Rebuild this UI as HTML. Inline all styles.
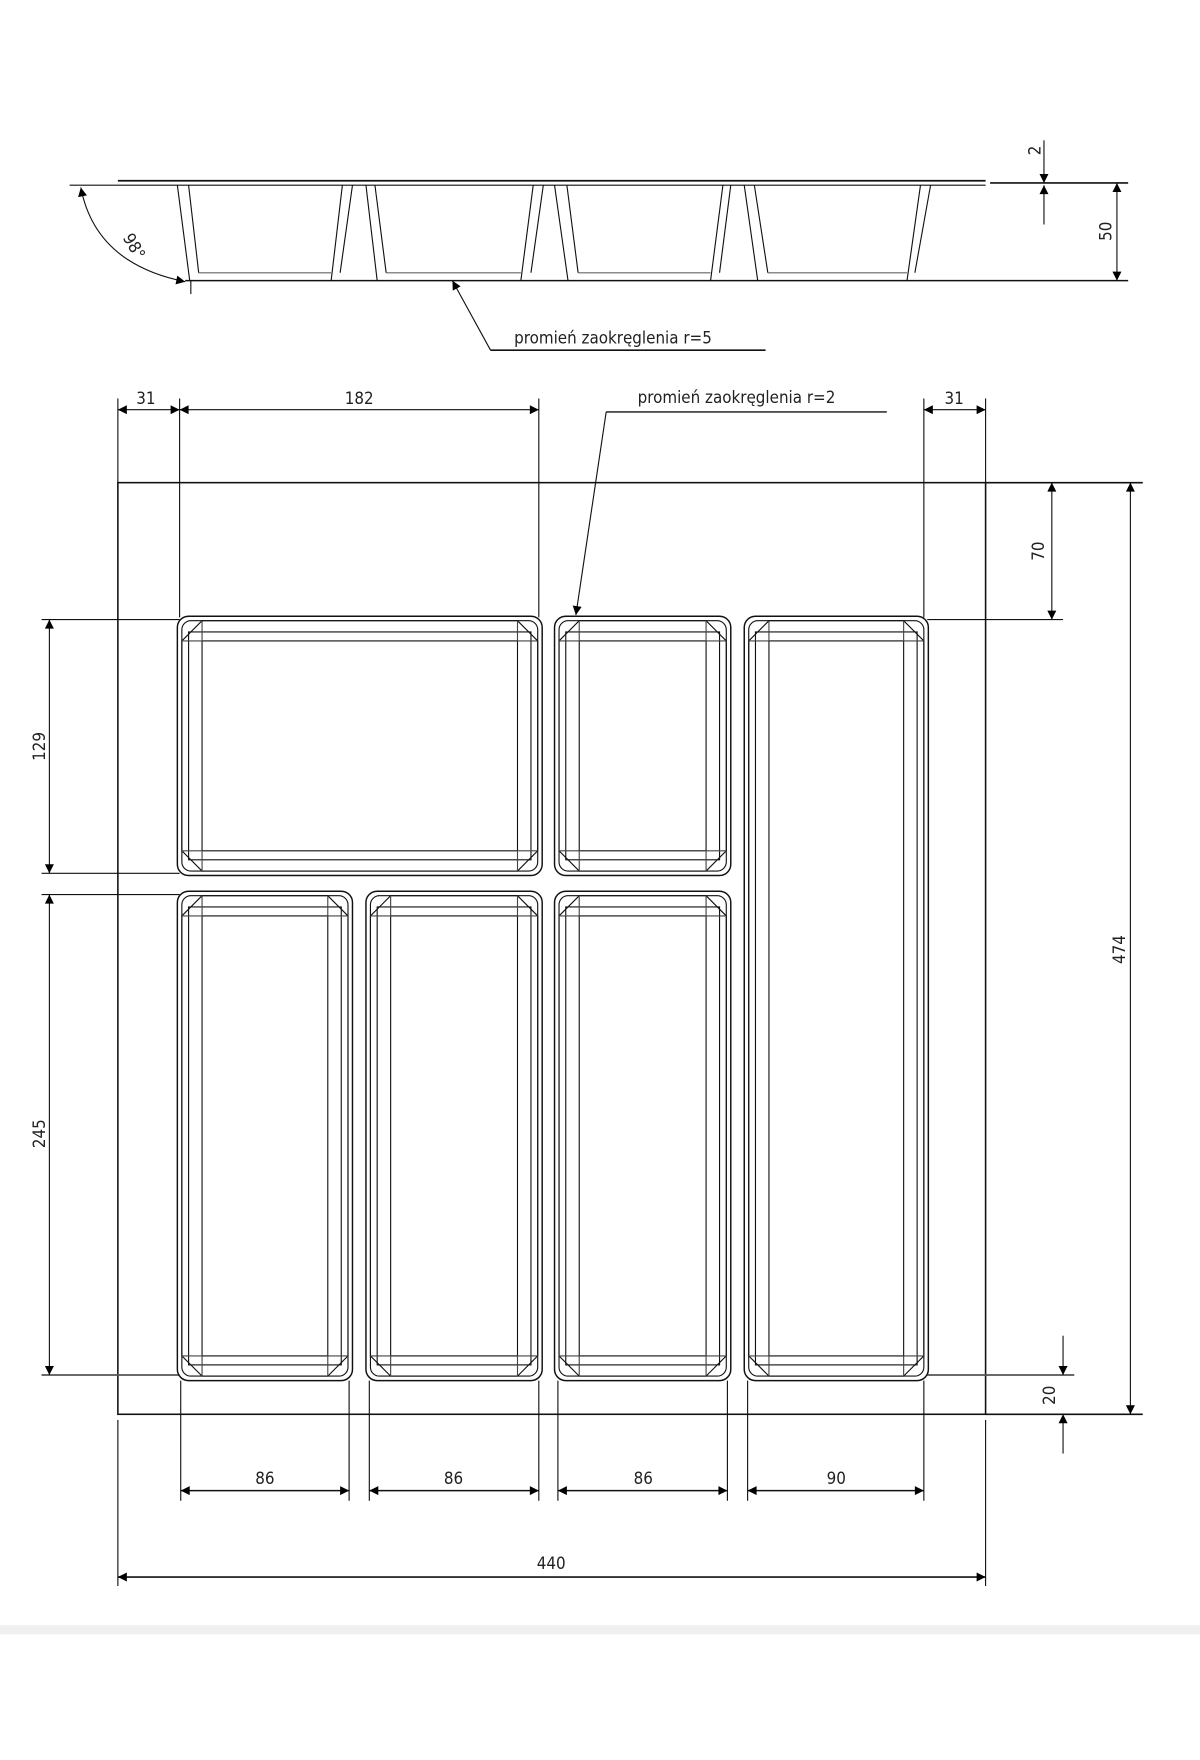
<!DOCTYPE html>
<html><head><meta charset="utf-8"><style>
html,body{margin:0;padding:0;background:#fff;}
svg{display:block}
text{font-family:"DejaVu Sans Condensed","Liberation Sans",sans-serif;fill:#222;font-size:15px}
</style></head><body>
<svg id="s" width="1200" height="1760" viewBox="0 0 1069 1568" preserveAspectRatio="none" xmlns="http://www.w3.org/2000/svg">
<defs>
<marker id="a" viewBox="0 0 10 10" refX="10" refY="5" markerWidth="14" markerHeight="8" markerUnits="userSpaceOnUse" orient="auto-start-reverse"><path d="M0,0 L10,5 L0,10 z" fill="#000"/></marker>
</defs>
<rect x="0" y="1448" width="1069" height="8" fill="#f0f0f0"/>
<g stroke="#111" stroke-width="1" fill="none">
<!-- side view -->
<line x1="105" y1="161" x2="878" y2="161" stroke-width="1.6"/>
<line x1="105" y1="165" x2="878" y2="165"/>
<line x1="882" y1="163" x2="1005" y2="163" stroke-width="1.4"/>
<line x1="62" y1="165" x2="105" y2="165"/>
<line x1="165" y1="250" x2="1005" y2="250" stroke-width="1.4"/>
<path d="M158,165 L169,250 M168,165 L177,243 M305,165 L295,250 M314,165 L303,243 M326,165 L336,250 M334,165 L344,243 M475,165 L464,250 M484,165 L473,243 M494,165 L506,250 M505,165 L515,243 M644,165 L633,250 M651,165 L641,243 M663,165 L675,250 M672,165 L684,243 M829,165 L815,243 M820,165 L808,250"/>
<path d="M177,243 H295 M344,243 H464 M515,243 H633 M684,243 H808" stroke="#666"/>
<line x1="170" y1="250" x2="170" y2="262"/>
<path d="M72,167 Q85,235 165,251" marker-start="url(#a)" marker-end="url(#a)"/>
<line x1="930" y1="125" x2="930" y2="163" marker-end="url(#a)"/>
<line x1="930" y1="200" x2="930" y2="165" marker-end="url(#a)"/>
<line x1="995" y1="163" x2="995" y2="250" marker-start="url(#a)" marker-end="url(#a)"/>
<path d="M437,312 L403,250" marker-end="url(#a)"/>
<line x1="437" y1="312" x2="682" y2="312" stroke-width="1.4"/>
<!-- top view -->
<rect x="105" y="430" width="773" height="830" stroke-width="1.4"/>
<line x1="878" y1="430" x2="1018" y2="430" stroke-width="1.4"/>
<line x1="878" y1="1260" x2="1018" y2="1260" stroke-width="1.4"/>
<line x1="105" y1="355" x2="105" y2="430"/>
<line x1="160" y1="355" x2="160" y2="550"/>
<line x1="480" y1="355" x2="480" y2="550"/>
<line x1="823" y1="355" x2="823" y2="550"/>
<line x1="878" y1="355" x2="878" y2="430"/>
<line x1="105" y1="365" x2="160" y2="365" marker-start="url(#a)" marker-end="url(#a)"/>
<line x1="160" y1="365" x2="480" y2="365" marker-start="url(#a)" marker-end="url(#a)"/>
<line x1="823" y1="365" x2="878" y2="365" marker-start="url(#a)" marker-end="url(#a)"/>
<line x1="540" y1="367" x2="790" y2="367" stroke-width="1.2"/>
<path d="M540,367 L513,548" marker-end="url(#a)"/>
<line x1="826" y1="552" x2="947" y2="552"/>
<line x1="937" y1="430" x2="937" y2="552" marker-start="url(#a)" marker-end="url(#a)"/>
<line x1="1007" y1="430" x2="1007" y2="1260" marker-start="url(#a)" marker-end="url(#a)"/>
<line x1="826" y1="1225" x2="957" y2="1225" stroke="#555" stroke-width="1.5"/>
<line x1="947" y1="1190" x2="947" y2="1225" marker-end="url(#a)"/>
<line x1="947" y1="1295" x2="947" y2="1260" marker-end="url(#a)"/>
<line x1="37" y1="552" x2="160" y2="552"/>
<line x1="37" y1="778" x2="160" y2="778"/>
<line x1="37" y1="797" x2="160" y2="797"/>
<line x1="37" y1="1225" x2="160" y2="1225" stroke="#555" stroke-width="1.5"/>
<line x1="44" y1="552" x2="44" y2="778" marker-start="url(#a)" marker-end="url(#a)"/>
<line x1="44" y1="797" x2="44" y2="1225" marker-start="url(#a)" marker-end="url(#a)"/>
<path d="M161,1230V1337 M311,1230V1337 M329,1230V1337 M480,1230V1337 M497,1230V1337 M648,1230V1337 M666,1230V1337 M823,1230V1337"/>
<line x1="161" y1="1328" x2="311" y2="1328" marker-start="url(#a)" marker-end="url(#a)" stroke-width="1.4"/>
<line x1="329" y1="1328" x2="480" y2="1328" marker-start="url(#a)" marker-end="url(#a)" stroke-width="1.4"/>
<line x1="497" y1="1328" x2="648" y2="1328" marker-start="url(#a)" marker-end="url(#a)" stroke-width="1.4"/>
<line x1="666" y1="1328" x2="823" y2="1328" marker-start="url(#a)" marker-end="url(#a)" stroke-width="1.4"/>
<path d="M105,1265V1413 M878,1265V1413"/>
<line x1="105" y1="1405" x2="878" y2="1405" marker-start="url(#a)" marker-end="url(#a)" stroke-width="1.4"/>
<g id="comps"></g>
</g>
<text x="130" y="360" text-anchor="middle">31</text>
<text x="320" y="360" text-anchor="middle">182</text>
<text x="850" y="360" text-anchor="middle">31</text>
<text x="568" y="359">promień zaokręglenia r=2</text>
<text x="458" y="306">promień zaokręglenia r=5</text>
<text transform="translate(115,222) rotate(60)" text-anchor="middle" font-size="13">98°</text>
<text transform="translate(927,134) rotate(-90)" text-anchor="middle">2</text>
<text transform="translate(990,206) rotate(-90)" text-anchor="middle">50</text>
<text transform="translate(930,491) rotate(-90)" text-anchor="middle">70</text>
<text transform="translate(1002,846) rotate(-90)" text-anchor="middle">474</text>
<text transform="translate(940,1243) rotate(-90)" text-anchor="middle">20</text>
<text transform="translate(40,665) rotate(-90)" text-anchor="middle">129</text>
<text transform="translate(40,1010) rotate(-90)" text-anchor="middle">245</text>
<text x="236" y="1322" text-anchor="middle">86</text>
<text x="404" y="1322" text-anchor="middle">86</text>
<text x="573" y="1322" text-anchor="middle">86</text>
<text x="745" y="1322" text-anchor="middle">90</text>
<text x="491" y="1398" text-anchor="middle">440</text>
</svg>
<script>
var g=document.getElementById('comps'),h='';
[[158,549,483,780],[494,549,651,780],[663,549,827,1230],[158,794,314,1230],[326,794,483,1230],[494,794,651,1230]].forEach(function(c){
var x1=c[0],y1=c[1],x2=c[2],y2=c[3];
function r(i,rr,sw){h+='<rect x="'+(x1+i)+'" y="'+(y1+i)+'" width="'+(x2-x1-2*i)+'" height="'+(y2-y1-2*i)+'" rx="'+rr+'" stroke-width="'+sw+'"/>';}
r(0,10,1.3);r(4,8,1);
var a=10,b=22;
h+='<path d="M'+(x1+4)+','+(y1+b)+' L'+(x1+b)+','+(y1+4)+' H'+(x2-b)+' L'+(x2-4)+','+(y1+b)+' V'+(y2-b)+' L'+(x2-b)+','+(y2-4)+' H'+(x1+b)+' L'+(x1+4)+','+(y2-b)+' Z"/>';
h+='<rect x="'+(x1+a)+'" y="'+(y1+a+4)+'" width="'+(x2-x1-2*a)+'" height="'+(y2-y1-2*a-8)+'"/>';
r(b,0,1);
h+='<path d="M'+(x1+b)+','+(y1+4)+' L'+(x1+b)+','+(y1+b)+' L'+(x1+4)+','+(y1+b)+' M'+(x2-b)+','+(y1+4)+' L'+(x2-b)+','+(y1+b)+' L'+(x2-4)+','+(y1+b)+' M'+(x1+b)+','+(y2-4)+' L'+(x1+b)+','+(y2-b)+' L'+(x1+4)+','+(y2-b)+' M'+(x2-b)+','+(y2-4)+' L'+(x2-b)+','+(y2-b)+' L'+(x2-4)+','+(y2-b)+'" stroke="#444"/>';
});
g.innerHTML=h;
</script>
</body></html>
